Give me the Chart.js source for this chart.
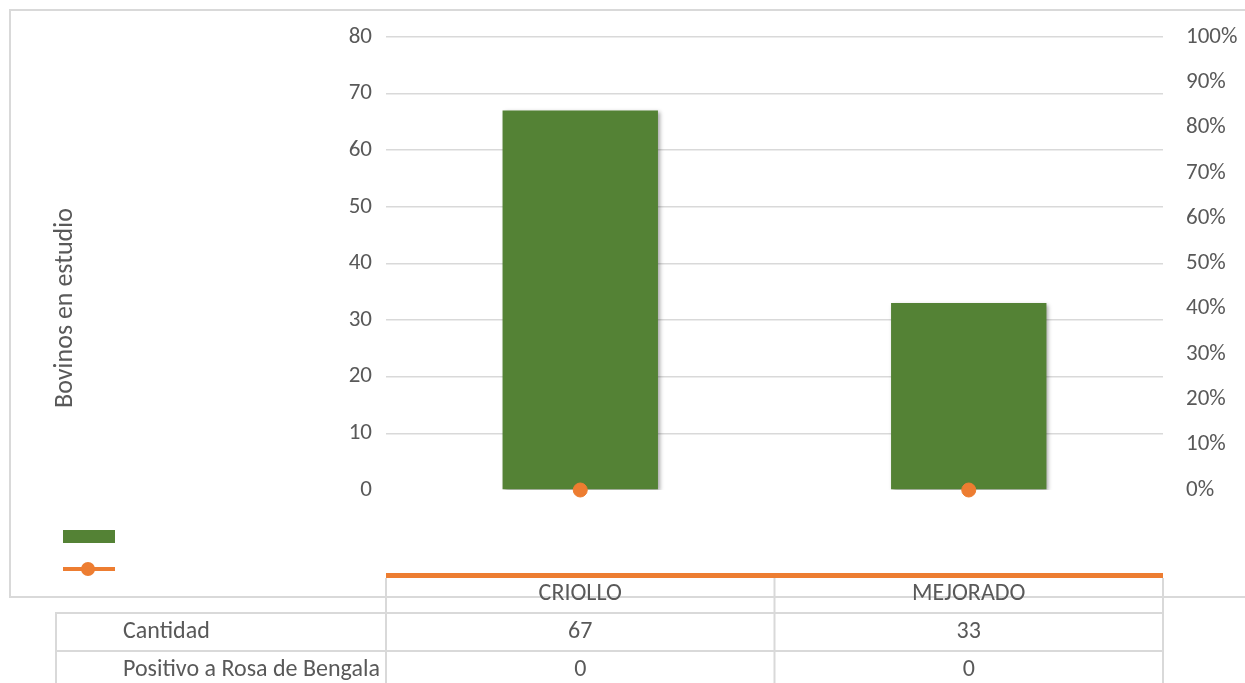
<!DOCTYPE html>
<html>
<head>
<meta charset="utf-8">
<script src="https://cdn.jsdelivr.net/npm/chart.js@4.4.1/dist/chart.umd.min.js"></script>
<style>
    body { margin: 0; background: #fff; }
    canvas { display: block; }
</style>
</head>
<body>
<canvas id="grafico" width="1245" height="683"></canvas>
<script>
// datos
const razas = ['CRIOLLO', 'MEJORADO']
const cantidad = [67, 33]
const positivos = [0, 0]
const serieBarras = 'Cantidad'
const serieLinea = 'Positivo a Rosa de Bengala'
const tituloEje = 'Bovinos en estudio'

const verde = '#548235'
const naranja = '#ED7D31'
const gris = '#d9d9d9'
const texto = '#595959'
const fuente = 'Carlito, Lato, sans-serif'
const tam = 23

// sombra suave de las barras
const sombra = {
    id: 'sombra',
    beforeDatasetDraw(chart, args) {
        if (args.index !== 1) return
        const ctx = chart.ctx
        ctx.save()
        ctx.shadowColor = 'rgba(0,0,0,0.35)'
        ctx.shadowBlur = 4
        ctx.shadowOffsetX = 2
        ctx.shadowOffsetY = 2
    },
    afterDatasetDraw(chart, args) {
        if (args.index === 1) chart.ctx.restore()
    }
}

// marco, titulo del eje, leyenda y tabla de datos
const tabla = {
    id: 'tabla',
    afterDraw(chart) {
        const ctx = chart.ctx
        const area = chart.chartArea
        const x = chart.scales.x
        const izq = area.left, der = area.right
        const medio = (x.getPixelForValue(0) + x.getPixelForValue(1)) / 2
        ctx.save()

        // marco del grafico
        ctx.strokeStyle = gris
        ctx.lineWidth = 2
        ctx.strokeRect(10, 10, 1300, 587)

        // titulo del eje vertical
        ctx.save()
        ctx.translate(65, 308)
        ctx.rotate(-Math.PI / 2)
        ctx.fillStyle = texto
        ctx.font = '26px ' + fuente
        ctx.textAlign = 'center'
        ctx.textBaseline = 'middle'
        ctx.fillText(tituloEje, 0, 0)
        ctx.restore()

        // leyenda
        ctx.fillStyle = verde
        ctx.fillRect(63, 530, 52, 13)
        ctx.strokeStyle = naranja
        ctx.lineWidth = 4
        ctx.beginPath()
        ctx.moveTo(63, 569)
        ctx.lineTo(115, 569)
        ctx.stroke()
        ctx.fillStyle = naranja
        ctx.beginPath()
        ctx.arc(88, 569, 7, 0, Math.PI * 2)
        ctx.fill()

        // linea de la serie sobre la tabla
        ctx.fillRect(izq, 573, der - izq, 5)

        // reticula de la tabla
        ctx.strokeStyle = gris
        ctx.lineWidth = 2
        ctx.beginPath()
        ;[izq, medio, der].forEach(px => {
            ctx.moveTo(px, 578)
            ctx.lineTo(px, 690)
        })
        ctx.moveTo(56, 613)
        ctx.lineTo(56, 690)
        ;[613, 651, 689].forEach(py => {
            ctx.moveTo(55, py)
            ctx.lineTo(der + 1, py)
        })
        ctx.stroke()

        // textos
        ctx.fillStyle = texto
        ctx.font = (tam + 1) + 'px ' + fuente
        ctx.textBaseline = 'middle'
        ctx.textAlign = 'center'
        razas.forEach((r, i) => {
            const cx = x.getPixelForValue(i)
            ctx.fillText(r, cx, 594)
            ctx.fillText(String(cantidad[i]), cx, 632)
            ctx.fillText(String(positivos[i]), cx, 670)
        })
        ctx.textAlign = 'left'
        ctx.fillText(serieBarras, 123, 632)
        ctx.fillText(serieLinea, 123, 670)
        ctx.restore()
    }
}

const data = {
    labels: razas,
    datasets: [{
        type: 'line',
        label: serieLinea,
        data: positivos,
        yAxisID: 'y1',
        showLine: false,
        borderColor: naranja,
        backgroundColor: naranja,
        pointRadius: 7,
        pointHoverRadius: 7,
        clip: false,
        order: 0
    }, {
        type: 'bar',
        label: serieBarras,
        data: cantidad,
        yAxisID: 'y',
        backgroundColor: verde,
        barPercentage: 0.4,
        categoryPercentage: 1,
        order: 1
    }]
}

const config = {
    data: data,
    options: {
        responsive: false,
        animation: false,
        layout: {
            padding: { top: 35, bottom: 193, left: 40, right: 0 }
        },
        scales: {
            x: {
                display: false
            },
            y: {
                position: 'left',
                min: 0,
                max: 80,
                ticks: {
                    stepSize: 10,
                    color: texto,
                    padding: 14,
                    font: { family: fuente, size: tam }
                },
                grid: {
                    drawTicks: false,
                    lineWidth: 1.5,
                    color: (c) => c.tick && c.tick.value === 0 ? 'rgba(0,0,0,0)' : gris
                },
                border: { display: false },
                afterFit(scale) { scale.width = 386 - 40 }
            },
            y1: {
                position: 'right',
                min: 0,
                max: 100,
                ticks: {
                    stepSize: 10,
                    color: texto,
                    padding: 23,
                    font: { family: fuente, size: tam },
                    callback: (v) => v + '%'
                },
                grid: { display: false, drawTicks: false },
                border: { display: false },
                afterFit(scale) { scale.width = 1245 - 1163 }
            }
        },
        plugins: {
            legend: { display: false },
            tooltip: { enabled: false }
        }
    },
    plugins: [sombra, tabla]
}

const myChart = new Chart(document.getElementById('grafico'), config)
</script>
</body>
</html>
